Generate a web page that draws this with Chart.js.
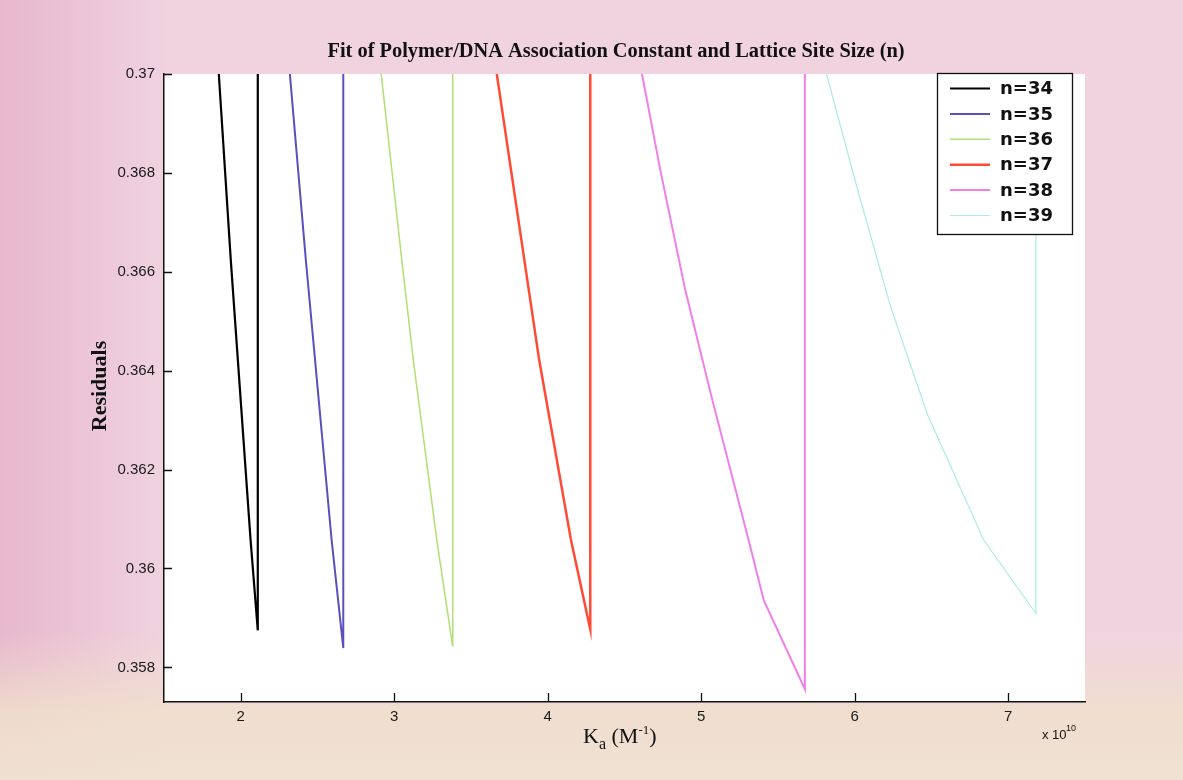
<!DOCTYPE html>
<html>
<head>
<meta charset="utf-8">
<title>Polymer/DNA fit residuals</title>
<script src="https://cdn.jsdelivr.net/npm/chart.js@4/dist/chart.umd.min.js"></script>
<style>
	html, body { margin: 0; padding: 0; background: #eed2dd; }
	#wrap { width: 1183px; height: 780px; }
</style>
</head>
<body>
<div id="wrap"><canvas id="fitChart" width="1183" height="780"></canvas></div>
<script>
// residuals vs Ka (x 10^10 M^-1) for each lattice site size
const siteSizes = ['n=34', 'n=35', 'n=36', 'n=37', 'n=38', 'n=39']

const ka34 = [1.857, 1.935, 2.064, 2.111, 2.111]
const res34 = [0.37, 0.36624, 0.36058, 0.35875, 0.37]

const ka35 = [2.320, 2.424, 2.592, 2.668, 2.668]
const res35 = [0.37, 0.36624, 0.36058, 0.35839, 0.37]

const ka36 = [2.915, 3.049, 3.124, 3.277, 3.381, 3.381]
const res36 = [0.37, 0.36624, 0.36422, 0.36058, 0.35842, 0.37]

const ka37 = [3.668, 3.944, 4.151, 4.277, 4.277]
const res37 = [0.37, 0.36422, 0.36058, 0.35877, 0.37]

const ka38 = [4.614, 4.733, 4.896, 5.072, 5.308, 5.407, 5.675, 5.675]
const res38 = [0.37, 0.36806, 0.36563, 0.36341, 0.36058, 0.35936, 0.35756, 0.37]

const ka39 = [5.816, 6.017, 6.234, 6.473, 6.839, 7.180, 7.180]
const res39 = [0.37, 0.36768, 0.36529, 0.36312, 0.36058, 0.35909, 0.37]

const xTicks = [2, 3, 4, 5, 6, 7]
const yTicks = [0.358, 0.36, 0.362, 0.364, 0.366, 0.368, 0.37]

const kaSeries = [ka34, ka35, ka36, ka37, ka38, ka39]
const resSeries = [res34, res35, res36, res37, res38, res39]
const lineColors = ['#000000', '#5a50bc', '#b2df74', '#ff4b35', '#f07fe8', '#a9ece6']
const lineWidths = [2.2, 2, 1.5, 2.5, 2, 1.2]

const serif = '"Liberation Serif", "Times New Roman", serif'
const sans = '"Liberation Sans", Arial, sans-serif'
const legendFont = '"DejaVu Sans", Arial, sans-serif'

const datasets = siteSizes.map((label, key) => ({
	label,
	data: kaSeries[key].map((ka, i) => ({ x: ka, y: resSeries[key][i] })),
	borderColor: lineColors[key],
	backgroundColor: lineColors[key],
	borderWidth: lineWidths[key],
	pointRadius: 0,
	tension: 0,
	fill: false,
}))

// paper background, white axes area, inward ticks, labels and legend box
const figurePlugin = {
	id: 'figure',
	beforeDraw(chart) {
		const { ctx, width, height, chartArea } = chart
		ctx.save()
		ctx.fillStyle = '#f0d3df'
		ctx.fillRect(0, 0, width, height)

		const side = ctx.createLinearGradient(0, 0, 170, 0)
		side.addColorStop(0, 'rgba(225,165,195,0.6)')
		side.addColorStop(1, 'rgba(225,165,195,0)')
		ctx.fillStyle = side
		ctx.fillRect(0, 0, 170, height)

		const low = ctx.createLinearGradient(0, 630, 0, height)
		low.addColorStop(0, 'rgba(240,224,204,0)')
		low.addColorStop(0.55, 'rgba(240,224,204,0.85)')
		low.addColorStop(1, 'rgba(240,226,210,0.95)')
		ctx.fillStyle = low
		ctx.fillRect(0, 630, width, height - 630)

		ctx.fillStyle = '#ffffff'
		ctx.fillRect(chartArea.left, chartArea.top, chartArea.right - chartArea.left, chartArea.bottom - chartArea.top)
		ctx.restore()
	},
	afterDraw(chart) {
		const { ctx, chartArea } = chart
		const xs = chart.scales.x
		const ys = chart.scales.y
		ctx.save()

		// inward tick marks
		ctx.strokeStyle = '#111'
		ctx.lineWidth = 1.3
		ctx.beginPath()
		xTicks.forEach((v) => {
			const px = Math.round(xs.getPixelForValue(v)) + 0.5
			ctx.moveTo(px, chartArea.bottom)
			ctx.lineTo(px, chartArea.bottom - 9)
		})
		yTicks.forEach((v) => {
			const py = Math.round(ys.getPixelForValue(v)) + 0.5
			ctx.moveTo(chartArea.left, py)
			ctx.lineTo(chartArea.left + 8, py)
		})
		ctx.stroke()

		// title
		ctx.fillStyle = '#111'
		ctx.textAlign = 'center'
		ctx.textBaseline = 'middle'
		ctx.font = 'bold 20.4px ' + serif
		ctx.fillText('Fit of Polymer/DNA Association Constant and Lattice Site Size (n)', 616, 52)

		// y axis title
		ctx.save()
		ctx.translate(100, 386)
		ctx.rotate(-Math.PI / 2)
		ctx.font = 'bold 22px ' + serif
		ctx.fillText('Residuals', 0, 0)
		ctx.restore()

		// x axis title: K_a (M^-1)
		ctx.textAlign = 'left'
		ctx.textBaseline = 'alphabetic'
		let x = 583
		const base = 743
		ctx.font = '22px ' + serif
		ctx.fillText('K', x, base)
		x += ctx.measureText('K').width
		ctx.font = '16px ' + serif
		ctx.fillText('a', x, base + 6)
		x += ctx.measureText('a').width
		ctx.font = '22px ' + serif
		ctx.fillText(' (M', x, base)
		x += ctx.measureText(' (M').width
		ctx.font = '13px ' + serif
		ctx.fillText('-1', x, base - 9)
		x += ctx.measureText('-1').width
		ctx.font = '22px ' + serif
		ctx.fillText(')', x, base)

		// exponent of the x axis
		ctx.font = '13px ' + sans
		ctx.fillText('x 10', 1042, 739)
		ctx.font = '9px ' + sans
		ctx.fillText('10', 1066, 731)

		// legend
		const box = { left: 937, top: 73, right: 1072, bottom: 234 }
		ctx.fillStyle = '#ffffff'
		ctx.fillRect(box.left, box.top, box.right - box.left, box.bottom - box.top)
		ctx.strokeStyle = '#111'
		ctx.lineWidth = 1.3
		ctx.strokeRect(box.left + 0.5, box.top + 0.5, box.right - box.left, box.bottom - box.top)
		ctx.font = 'bold 18px ' + legendFont
		ctx.textBaseline = 'middle'
		chart.data.datasets.forEach((ds, i) => {
			const ry = 88.5 + i * 25.4
			ctx.strokeStyle = ds.borderColor
			ctx.lineWidth = ds.borderWidth
			ctx.beginPath()
			ctx.moveTo(950, ry)
			ctx.lineTo(990, ry)
			ctx.stroke()
			ctx.fillStyle = '#111'
			ctx.fillText(ds.label, 1000, ry + 1)
		})
		ctx.restore()
	},
}

new Chart(document.getElementById('fitChart').getContext('2d'), {
	type: 'line',
	data: { datasets },
	options: {
		responsive: false,
		animation: false,
		layout: { padding: { top: 74, right: 98, left: 0, bottom: 0 } },
		plugins: {
			legend: { display: false },
			tooltip: { enabled: false },
		},
		scales: {
			x: {
				type: 'linear',
				min: 1.5,
				max: 7.5,
				grid: { display: false, drawTicks: false },
				border: { display: true, color: '#111', width: 1.5 },
				afterBuildTicks: (scale) => {
					scale.ticks = xTicks.map((value) => ({ value }))
				},
				afterFit: (scale) => {
					scale.height = 78
				},
				ticks: {
					padding: 6,
					color: '#1a1a1a',
					font: { family: sans, size: 15 },
					callback: (v) => String(v),
				},
			},
			y: {
				type: 'linear',
				min: 0.3573,
				max: 0.37,
				grid: { display: false, drawTicks: false },
				border: { display: true, color: '#111', width: 1.5 },
				afterBuildTicks: (scale) => {
					scale.ticks = yTicks.map((value) => ({ value }))
				},
				afterFit: (scale) => {
					scale.width = 164
				},
				ticks: {
					padding: 9,
					color: '#1a1a1a',
					font: { family: sans, size: 15 },
					callback: (v) => String(Number(v.toFixed(3))),
				},
			},
		},
	},
	plugins: [figurePlugin],
})
</script>
</body>
</html>
